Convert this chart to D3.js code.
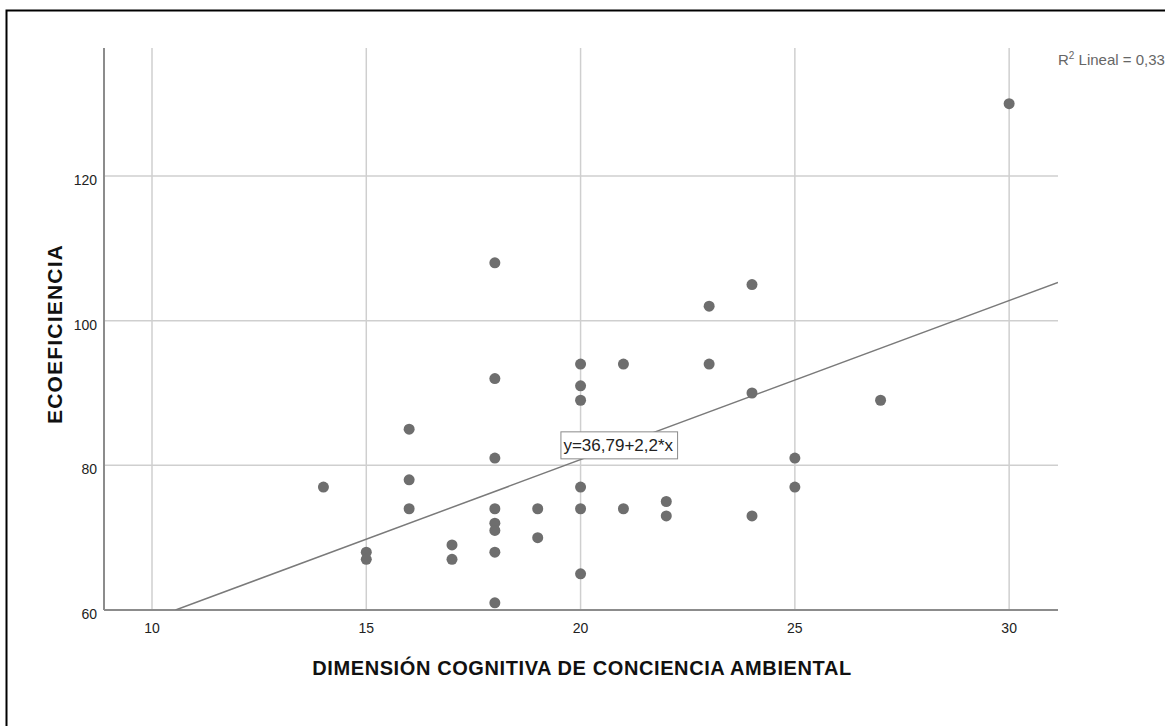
<!DOCTYPE html>
<html>
<head>
<meta charset="utf-8">
<script src="https://cdn.jsdelivr.net/npm/d3@7"></script>
<style>
  html, body { margin: 0; padding: 0; background: #fff; }
  svg { display: block; }
  text { font-family: "Liberation Sans", Arial, sans-serif; }
</style>
</head>
<body>
<div id="chart"></div>
<script>
// ---- data ----
const xValues = [14, 15, 15, 16, 16, 16, 17, 17,
  18, 18, 18, 18, 18, 18, 18, 18,
  19, 19, 20, 20, 20, 20, 20, 20,
  21, 21, 22, 22, 23, 23, 24, 24, 24,
  25, 25, 27, 30];
const yValues = [77, 68, 67, 85, 78, 74, 69, 67,
  108, 92, 81, 74, 72, 71, 68, 61,
  74, 70, 94, 91, 89, 77, 74, 65,
  94, 74, 75, 73, 102, 94, 105, 90, 73,
  81, 77, 89, 130];
const xTicks = [10, 15, 20, 25, 30];
const yTicks = [60, 80, 100, 120];
const fitIntercept = 36.79;
const fitSlope = 2.2;
const fitLabel = "y=36,79+2,2*x";
const r2Label = "0,33";
const xTitle = "DIMENSIÓN COGNITIVA DE CONCIENCIA AMBIENTAL";
const yTitle = "ECOEFICIENCIA";
const xDomain = [8.88, 31.14];
const yDomain = [60, 137.7];

// ---- layout ----
const W = 1165, H = 726;
const plot = { left: 104, right: 1058, top: 48, bottom: 610 };

const svg = d3.select("#chart").append("svg")
  .attr("width", W).attr("height", H);

// outer frame
svg.append("rect")
  .attr("x", 6.5).attr("y", 10.5)
  .attr("width", W + 20).attr("height", H + 20)
  .attr("fill", "none").attr("stroke", "#000").attr("stroke-width", 2);

const x = d3.scaleLinear().domain(xDomain).range([plot.left, plot.right]);
const y = d3.scaleLinear().domain(yDomain).range([plot.bottom, plot.top]);

// gridlines
svg.append("g").selectAll("line").data(xTicks).join("line")
  .attr("x1", d => x(d)).attr("x2", d => x(d))
  .attr("y1", plot.top).attr("y2", plot.bottom)
  .attr("stroke", "#cfcfcf").attr("stroke-width", 1.5);
svg.append("g").selectAll("line").data(yTicks.filter(d => d > yDomain[0])).join("line")
  .attr("x1", plot.left).attr("x2", plot.right)
  .attr("y1", d => y(d)).attr("y2", d => y(d))
  .attr("stroke", "#cfcfcf").attr("stroke-width", 1.5);

// axes lines
svg.append("line")
  .attr("x1", plot.left).attr("x2", plot.left)
  .attr("y1", plot.top).attr("y2", plot.bottom)
  .attr("stroke", "#8c8c8c").attr("stroke-width", 2);
svg.append("line")
  .attr("x1", plot.left).attr("x2", plot.right)
  .attr("y1", plot.bottom).attr("y2", plot.bottom)
  .attr("stroke", "#8c8c8c").attr("stroke-width", 2);

// tick labels
svg.append("g").selectAll("text").data(yTicks).join("text")
  .attr("x", plot.left - 7)
  .attr("y", d => y(d) + 4)
  .attr("dy", "0.35em")
  .attr("text-anchor", "end")
  .attr("font-size", 14).attr("fill", "#222")
  .text(d => d);
svg.append("g").selectAll("text").data(xTicks).join("text")
  .attr("x", d => x(d))
  .attr("y", plot.bottom + 23)
  .attr("text-anchor", "middle")
  .attr("font-size", 14).attr("fill", "#222")
  .text(d => d);

// regression line
svg.append("clipPath").attr("id", "plotclip")
  .append("rect").attr("x", plot.left).attr("y", plot.top)
  .attr("width", plot.right - plot.left).attr("height", plot.bottom - plot.top);
const xStart = (yDomain[0] - fitIntercept) / fitSlope;
svg.append("line")
  .attr("clip-path", "url(#plotclip)")
  .attr("x1", x(xStart)).attr("y1", y(fitIntercept + fitSlope * xStart))
  .attr("x2", x(xDomain[1])).attr("y2", y(fitIntercept + fitSlope * xDomain[1]))
  .attr("stroke", "#7a7a7a").attr("stroke-width", 1.5);

// points
const pts = xValues.map((v, i) => ({ x: v, y: yValues[i] }));
svg.append("g").selectAll("circle").data(pts).join("circle")
  .attr("cx", d => x(d.x)).attr("cy", d => y(d.y))
  .attr("r", 5.5).attr("fill", "#6e6e6e");

// fit label box
const lblX = x(19.53), lblY = y(84.7);
const lblG = svg.append("g").attr("transform", `translate(${lblX},${lblY})`);
const lblT = lblG.append("text")
  .attr("x", 3).attr("y", 20)
  .attr("font-size", 17).attr("fill", "#222")
  .text(fitLabel);
const tw = lblT.node().getComputedTextLength();
lblG.insert("rect", "text")
  .attr("x", 0.5).attr("y", 0.5)
  .attr("width", tw + 7).attr("height", 27)
  .attr("fill", "#fff").attr("stroke", "#8a8a8a").attr("stroke-width", 1);

// R2 label
const r2 = svg.append("text")
  .attr("x", plot.right).attr("y", 65)
  .attr("font-size", 15).attr("fill", "#666");
r2.append("tspan").text("R");
r2.append("tspan").attr("font-size", 10).attr("dy", -6).text("2");
r2.append("tspan").attr("dy", 6).text(" Lineal = " + r2Label);

// axis titles
svg.append("text")
  .attr("x", (plot.left + plot.right) / 2 + 1).attr("y", 675)
  .attr("text-anchor", "middle")
  .attr("font-size", 20).attr("font-weight", "bold").attr("fill", "#111")
  .attr("letter-spacing", 0.6)
  .text(xTitle);
svg.append("text")
  .attr("transform", `translate(62, 334) rotate(-90)`)
  .attr("text-anchor", "middle")
  .attr("font-size", 21).attr("font-weight", "bold").attr("fill", "#111")
  .attr("letter-spacing", 1.2)
  .text(yTitle);
</script>
</body>
</html>
